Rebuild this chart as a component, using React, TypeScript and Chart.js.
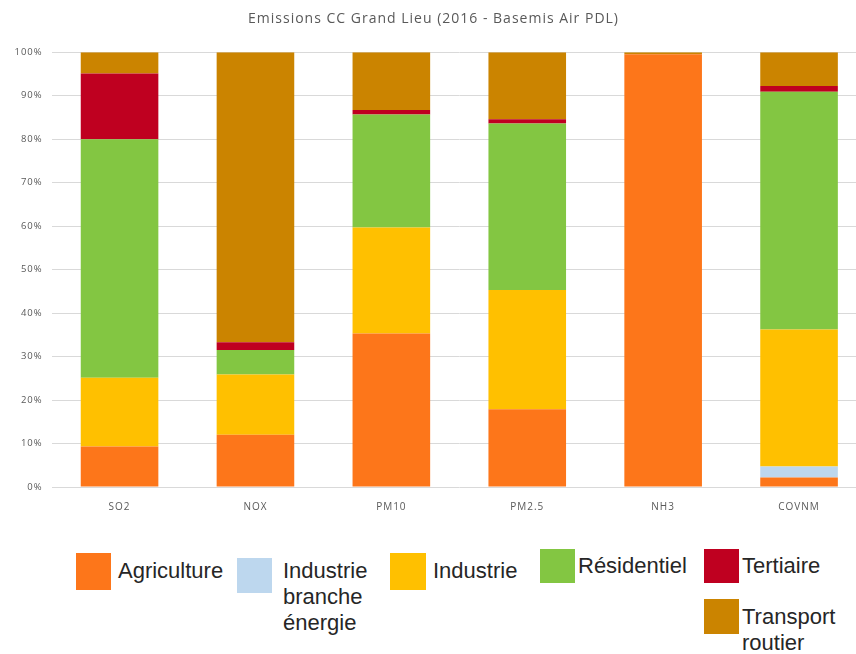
import React, { useEffect, useRef } from "react";
import { Chart, registerables } from "chart.js";

Chart.register(...registerables);

const TITLE = "Emissions CC Grand Lieu (2016 - Basemis Air PDL)";
const categories = ["SO2", "NOX", "PM10", "PM2.5", "NH3", "COVNM"];
const seriesNames = [
  "Agriculture",
  "Industrie branche énergie",
  "Industrie",
  "Résidentiel",
  "Tertiaire",
  "Transport routier",
];
const agriculture = [9.3, 12.0, 35.3, 17.9, 99.5, 2.2];
const industrieBrancheEnergie = [0, 0, 0, 0, 0, 2.5];
const industrie = [15.8, 13.9, 24.4, 27.4, 0, 31.5];
const residentiel = [54.9, 5.6, 26.0, 38.3, 0, 54.7];
const tertiaire = [15.1, 1.8, 1.0, 1.0, 0, 1.3];
const transportRoutier = [4.9, 66.7, 13.3, 15.4, 0.5, 7.8];
const yTicks = [0, 10, 20, 30, 40, 50, 60, 70, 80, 90, 100];

const seriesValues = [
  agriculture,
  industrieBrancheEnergie,
  industrie,
  residentiel,
  tertiaire,
  transportRoutier,
];
const colors = ["#FD761A", "#BDD7EE", "#FFC000", "#83C642", "#BF0020", "#CB8400"];

// legend layout (positions only)
const legendLayout = [
  { sx: 76, sy: 553, sw: 35, sh: 37, tx: 118, ty: 558, lines: ["Agriculture"] },
  { sx: 237, sy: 558, sw: 35, sh: 35, tx: 283, ty: 558, lines: ["Industrie", "branche", "énergie"] },
  { sx: 390, sy: 553, sw: 36, sh: 37, tx: 433, ty: 558, lines: ["Industrie"] },
  { sx: 540, sy: 549, sw: 35, sh: 34, tx: 578, ty: 553, lines: ["Résidentiel"] },
  { sx: 704, sy: 549, sw: 35, sh: 34, tx: 742, ty: 553, lines: ["Tertiaire"] },
  { sx: 704, sy: 599, sw: 35, sh: 35, tx: 742, ty: 604, lines: ["Transport", "routier"] },
];

const spacingPlugin = {
  id: "letterSpacing",
  beforeUpdate(chart: any) {
    chart.ctx.letterSpacing = "1px";
  },
  beforeDraw(chart: any) {
    chart.ctx.letterSpacing = "1px";
  },
};

export default function App() {
  const ref = useRef<HTMLCanvasElement | null>(null);

  useEffect(() => {
    if (!ref.current) return;
    const chart = new Chart(ref.current, {
      type: "bar",
      plugins: [spacingPlugin],
      data: {
        labels: categories,
        datasets: seriesNames.map((name, i) => ({
          label: name,
          data: seriesValues[i],
          backgroundColor: colors[i],
          borderWidth: 0,
          barPercentage: 0.571,
          categoryPercentage: 1,
        })),
      },
      options: {
        responsive: false,
        animation: false,
        layout: { padding: { left: 0, right: 13, top: 0, bottom: 3 } },
        plugins: {
          legend: { display: false },
          tooltip: { enabled: false },
          title: {
            display: true,
            text: TITLE,
            color: "#595959",
            font: { family: "'Open Sans', sans-serif", size: 14, weight: "normal" },
            padding: { top: 11, bottom: 24.4 },
          },
        },
        scales: {
          x: {
            stacked: true,
            grid: { display: false, drawTicks: false },
            border: { display: false },
            ticks: {
              color: "#595959",
              padding: 14,
              font: { family: "'Open Sans', sans-serif", size: 10 },
            },
          },
          y: {
            stacked: true,
            min: 0,
            max: 100,
            afterFit: (scale: any) => {
              scale.width = 51.6;
            },
            afterBuildTicks: (scale: any) => {
              scale.ticks = yTicks.map((v) => ({ value: v }));
            },
            grid: { color: "#d9d9d9", lineWidth: 1, drawTicks: false },
            border: { display: false },
            ticks: {
              color: "#595959",
              padding: 9,
              font: { family: "'Open Sans', sans-serif", size: 9.5 },
              callback: (v: any) => v + "%",
            },
          },
        },
      },
    });
    return () => chart.destroy();
  }, []);

  return (
    <div
      style={{
        position: "absolute",
        left: 0,
        top: 0,
        width: 856,
        height: 654,
        overflow: "hidden",
        background: "#fff",
      }}
    >
      <canvas ref={ref} width={880} height={530} style={{ display: "block" }} />
      {legendLayout.map((l, i) => (
        <React.Fragment key={i}>
          <div
            style={{
              position: "absolute",
              left: l.sx,
              top: l.sy,
              width: l.sw,
              height: l.sh,
              background: colors[i],
            }}
          />
          <div
            style={{
              position: "absolute",
              left: l.tx,
              top: l.ty,
              fontFamily: "'Liberation Sans', Arial, sans-serif",
              fontSize: 22,
              lineHeight: "26px",
              color: "#262626",
              whiteSpace: "nowrap",
            }}
          >
            {l.lines.map((t, j) => (
              <div key={j}>{t}</div>
            ))}
          </div>
        </React.Fragment>
      ))}
    </div>
  );
}
